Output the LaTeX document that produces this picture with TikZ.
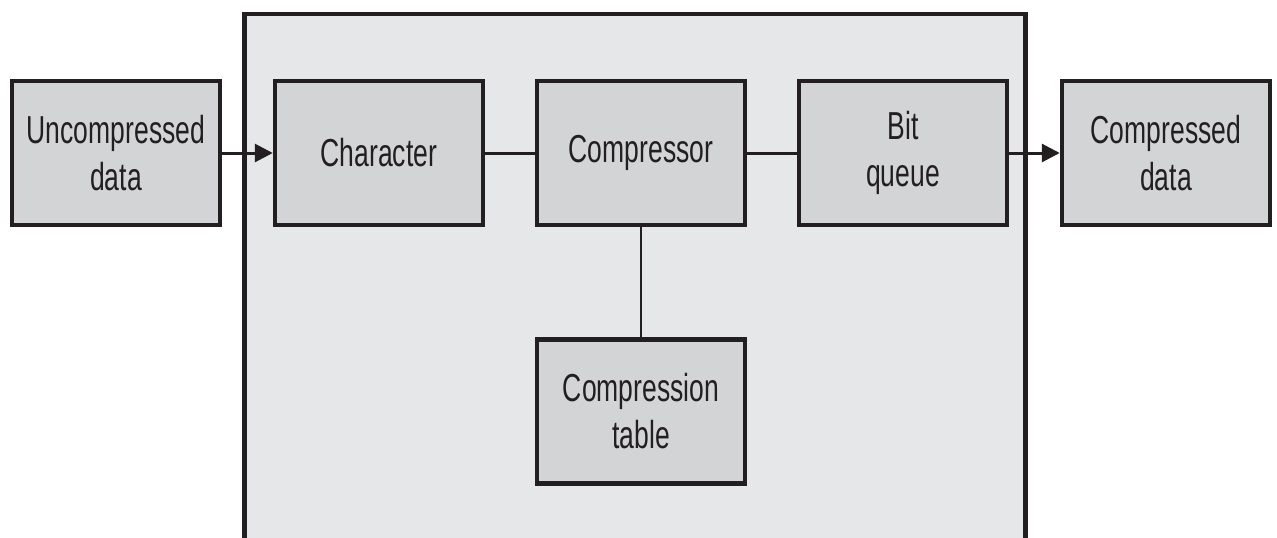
\documentclass[tikz,border=0pt]{standalone}
\usepackage{fontspec}
\newfontfamily\labelfont[FakeStretch=0.68]{Liberation Sans}
\usetikzlibrary{arrows.meta}
\definecolor{inkdark}{HTML}{231F20}
\definecolor{panelgray}{HTML}{E6E7E9}
\definecolor{boxgray}{HTML}{D3D4D6}
\tikzset{
  blockbox/.style={draw=inkdark, fill=boxgray, line width=4.5pt,
    minimum width=208pt, minimum height=144pt, inner sep=0pt,
    align=center, text=inkdark,
    font=\labelfont\fontsize{39}{47}\selectfont},
  flowline/.style={draw=inkdark, line width=3pt},
  flowarrow/.style={flowline, -{Triangle[length=18pt,width=18pt]}},
}
\begin{document}
\begin{tikzpicture}[x=1pt,y=-1pt]
  \useasboundingbox (0,0) rectangle (1277,538);
  \clip (0,0) rectangle (1277,538);
  % enclosing panel, open past the lower edge
  \draw[draw=inkdark, fill=panelgray, line width=4.5pt] (244.5,14) rectangle (1025.5,580);

  \node[blockbox] (raw)   at (116,153)   {Uncompressed\\data};
  \node[blockbox] (chr)   at (379,153)   {Character};
  \node[blockbox] (comp)  at (641,153)   {Compressor};
  \node[blockbox] (bits)  at (903,153)   {Bit\\queue};
  \node[blockbox] (out)   at (1166,153)  {Compressed\\data};
  \node[blockbox] (table) at (641,411.5) {Compression\\table};

  \draw[flowarrow] (raw.east) -- (chr.west);
  \draw[flowline] (chr.east) -- (comp.west);
  \draw[flowline] (comp.east) -- (bits.west);
  \draw[flowarrow] (bits.east) -- (out.west);
  \draw[flowline, line width=2.5pt] (comp.south) -- (table.north);
\end{tikzpicture}
\end{document}
